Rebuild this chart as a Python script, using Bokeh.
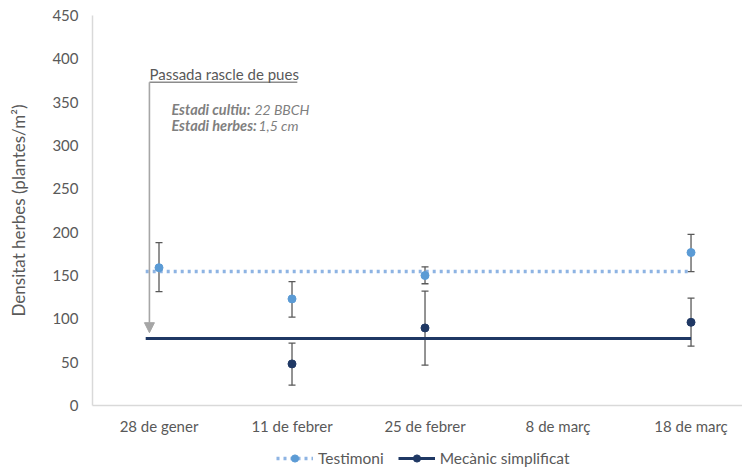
from bokeh.plotting import figure
from bokeh.layouts import column
from bokeh.models import (Range1d, FixedTicker, Whisker, ColumnDataSource, TeeHead,
                          Arrow, NormalHead, Label, Legend, LegendItem)
from bokeh.embed import file_html
from bokeh.resources import INLINE
import numpy as np

# Sampling dates (x categories)
dates = ["28 de gener", "11 de febrer", "25 de febrer", "8 de març", "18 de març"]

# Weed density (plants/m2): mean and error-bar limits per date (NaN = no sample)
testimoni = [159, 123, 150, np.nan, 176.5]
testimoni_hi = [188, 143, 160, np.nan, 197.5]
testimoni_lo = [131.5, 102, 140.5, np.nan, 154.5]

mecanic = [np.nan, 48, 89.5, np.nan, 96]
mecanic_hi = [np.nan, 72, 132, np.nan, 124]
mecanic_lo = [np.nan, 23.5, 46.5, np.nan, 68.5]

# Period averages drawn as horizontal reference lines
testimoni_mitjana = 154.5
mecanic_mitjana = 77.3

# Series names and annotation texts
series_names = ["Testimoni", "Mecànic simplificat"]
nota_titol = "Passada rascle de pues"
nota_linies = [("Estadi cultiu:", "22 BBCH"), ("Estadi herbes:", "1,5 cm")]

FONT = "Lato"
GREY_TXT = "#595959"
C_TEST = "#5B9BD5"
C_TEST_LINE = "#8EB4E3"
C_MEC = "#1F3864"

idx = list(range(len(dates)))


def valid(xs, *cols):
    keep = [i for i in range(len(xs)) if not np.isnan(cols[0][i])]
    out = {f"c{k}": [c[i] for i in keep] for k, c in enumerate(cols)}
    out["x"] = [xs[i] for i in keep]
    return out


p = figure(width=742, height=445, output_backend="svg", toolbar_location=None,
           x_range=Range1d(-0.5, 4.387), y_range=Range1d(0, 450),
           min_border_left=92, min_border_right=0, min_border_top=15, min_border_bottom=40)
p.outline_line_color = None
p.grid.grid_line_color = None
p.background_fill_color = "white"
p.border_fill_color = "white"

# Axes
p.xaxis.ticker = FixedTicker(ticks=idx)
p.xaxis.major_label_overrides = {i: d for i, d in zip(idx, dates)}
p.yaxis.ticker = FixedTicker(ticks=list(range(0, 451, 50)))
for ax in (p.xaxis[0], p.yaxis[0]):
    ax.axis_line_color = "#D9D9D9"
    ax.axis_line_width = 1.5
    ax.major_tick_line_color = None
    ax.minor_tick_line_color = None
    ax.major_tick_out = 0
    ax.major_tick_in = 0
    ax.major_label_text_font = FONT
    ax.major_label_text_font_size = "15px"
    ax.major_label_text_color = GREY_TXT
p.xaxis.major_label_standoff = 11
p.yaxis.major_label_standoff = 14
p.yaxis.axis_label = "Densitat herbes (plantes/m²)"
p.yaxis.axis_label_text_font = FONT
p.yaxis.axis_label_text_font_size = "17px"
p.yaxis.axis_label_text_font_style = "normal"
p.yaxis.axis_label_text_color = GREY_TXT
p.yaxis.axis_label_standoff = 20

# Period average lines
line_x = [-0.1, idx[-1]]
test_line_style = dict(line_color=C_TEST_LINE, line_width=3.5, line_dash="3 4", line_cap="butt")
mec_line_style = dict(line_color=C_MEC, line_width=3)
p.line(line_x, [testimoni_mitjana] * 2, **test_line_style)
p.line(line_x, [mecanic_mitjana] * 2, **mec_line_style)

# Error bars
for vals, hi, lo in ((testimoni, testimoni_hi, testimoni_lo), (mecanic, mecanic_hi, mecanic_lo)):
    src = ColumnDataSource(valid(idx, vals, hi, lo))
    w = Whisker(base="x", upper="c1", lower="c2", source=src, dimension="height",
                line_color="#595959", line_width=1.3,
                upper_head=TeeHead(size=7, line_color="#595959", line_width=1.3),
                lower_head=TeeHead(size=7, line_color="#595959", line_width=1.3))
    p.add_layout(w)

# Points
test_pt_style = dict(size=8, fill_color=C_TEST, line_color=C_TEST)
mec_pt_style = dict(size=8, fill_color=C_MEC, line_color=C_MEC)
p.scatter("x", "c0", source=ColumnDataSource(valid(idx, testimoni)), **test_pt_style)
p.scatter("x", "c0", source=ColumnDataSource(valid(idx, mecanic)), **mec_pt_style)

# Treatment annotation: underlined title and arrow down to the average line
ann_x = -0.072
ann_top = 373
ann_tip = 84
p.line([ann_x, 1.04], [ann_top, ann_top], line_color="#8C8C8C", line_width=1.3)
p.add_layout(Arrow(x_start=ann_x, y_start=ann_top, x_end=ann_x, y_end=ann_tip,
                   line_color="#A6A6A6", line_width=1.6,
                   end=NormalHead(size=10, fill_color="#A6A6A6", line_color="#A6A6A6")))
p.add_layout(Label(x=ann_x, y=ann_top, y_offset=8, text=nota_titol, text_font=FONT,
                   text_font_size="15px", text_color=GREY_TXT, text_baseline="middle"))
for k, ((bold, rest), dx) in enumerate(zip(nota_linies, (83, 87))):
    yoff = -27 - 16.5 * k
    p.add_layout(Label(x=ann_x, y=ann_top, x_offset=22, y_offset=yoff, text=bold,
                       text_font=FONT, text_font_size="14.5px", text_font_style="bold italic",
                       text_color="#7F7F7F", text_baseline="middle"))
    p.add_layout(Label(x=ann_x, y=ann_top, x_offset=22 + dx, y_offset=yoff, text=rest,
                       text_font=FONT, text_font_size="14px", text_font_style="italic",
                       text_color="#7F7F7F", text_baseline="middle"))

# Legend strip underneath the chart; its sample glyphs sit outside the visible range
leg = figure(width=742, height=24, output_backend="svg", toolbar_location=None,
             x_axis_type=None, y_axis_type=None, x_range=Range1d(0, 1), y_range=Range1d(0, 1),
             min_border=0)
leg.outline_line_color = None
leg.grid.grid_line_color = None
off = [-5, -4]
rt_l = leg.line(off, off, **test_line_style)
rt_p = leg.scatter(off, off, **test_pt_style)
rm_l = leg.line(off, off, **mec_line_style)
rm_p = leg.scatter(off, off, **mec_pt_style)
legend = Legend(items=[LegendItem(label=series_names[0], renderers=[rt_l, rt_p]),
                       LegendItem(label=series_names[1], renderers=[rm_l, rm_p])],
                orientation="horizontal", location=(184, 2), margin=0,
                glyph_width=37, glyph_height=18, label_standoff=5, spacing=14, padding=2,
                label_text_font=FONT, label_text_font_size="15.5px", label_text_color=GREY_TXT,
                border_line_color=None, background_fill_alpha=0)
leg.add_layout(legend)

open("out.html", "w").write(file_html(column(p, leg, spacing=0), INLINE))
